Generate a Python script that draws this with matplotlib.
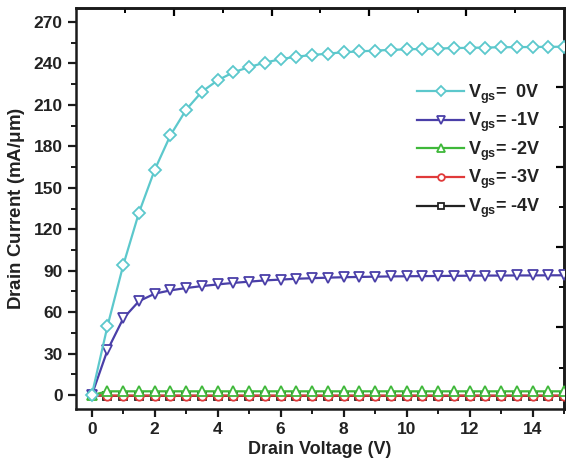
import matplotlib
matplotlib.use("Agg")
import matplotlib.pyplot as plt
import numpy as np

plt.rcParams['font.family'] = ['Liberation Sans', 'DejaVu Sans']
plt.rcParams['font.weight'] = 'bold'
plt.rcParams['mathtext.fontset'] = 'custom'
plt.rcParams['mathtext.rm'] = 'Liberation Sans:bold'
plt.rcParams['mathtext.it'] = 'Liberation Sans:bold'
plt.rcParams['mathtext.bf'] = 'Liberation Sans:bold'

vd = [0, 0.5, 1, 1.5, 2, 2.5, 3, 3.5, 4, 4.5, 5, 5.5, 6, 6.5, 7, 7.5, 8, 8.5, 9, 9.5,
      10, 10.5, 11, 11.5, 12, 12.5, 13, 13.5, 14, 14.5, 15]
id_0v = [0, 50, 94, 132, 163, 188, 206.5, 219.5, 227.7, 233.5, 237.3, 240.5, 243, 244.8, 246,
         247, 248, 248.6, 249.2, 249.7, 250.1, 250.4, 250.7, 251, 251.2, 251.4, 251.6, 251.7,
         251.8, 251.9, 252]
id_m1v = [0, 32.6, 55.5, 68, 73.4, 75.8, 77.5, 78.9, 80.1, 81.2, 82.1, 83, 83.6, 84.2, 84.6,
          85, 85.3, 85.5, 85.7, 85.9, 86, 86.1, 86.2, 86.3, 86.4, 86.5, 86.5, 86.6, 86.6, 86.7, 86.7]
id_m2v = [0] + [2.8] * 30
id_m3v = [0] + [-0.3] * 30
id_m4v = [0] + [-0.5] * 30

labels = [r'V$_{gs}$=  0V', r'V$_{gs}$= -1V', r'V$_{gs}$= -2V', r'V$_{gs}$= -3V', r'V$_{gs}$= -4V']
colors = ['#5cc8cc', '#4a3fa8', '#3fb83a', '#e03a3a', '#222222']
markers = ['D', 'v', '^', 'o', 's']
msizes = [6, 7.5, 7, 6, 5.5]
series = [id_0v, id_m1v, id_m2v, id_m3v, id_m4v]
zorders = [6, 5, 4, 3, 2]

fig = plt.figure(figsize=(5.66, 4.59), dpi=100)
ax = fig.add_axes([0.1343, 0.1089, 0.8622, 0.8737])

handles = []
for y, lab, c, m, ms, z in zip(series, labels, colors, markers, msizes, zorders):
    h, = ax.plot(vd, y, color=c, lw=1.6, marker=m, ms=ms, mfc='white', mec=c, mew=1.3,
                 label=lab, zorder=z)
    handles.append(h)

ax.set_xlim(-0.5, 15)
ax.set_ylim(-10, 280)
ax.set_xticks(np.arange(0, 15, 2))
ax.set_xticks(np.arange(0, 15.1, 1), minor=True)
ax.set_yticks(np.arange(0, 271, 30))
ax.set_yticks(np.arange(0, 280, 15), minor=True)

for s in ax.spines.values():
    s.set_linewidth(1.8)
    s.set_color('#1a1a1a')

ax.tick_params(which='major', direction='out', length=6, width=1.6, labelsize=12.5,
               top=False, right=False, color='#1a1a1a', labelcolor='#222222')
ax.tick_params(which='minor', direction='out', length=3.5, width=1.4,
               top=False, right=False, color='#1a1a1a')
for t in ax.get_xticklabels() + ax.get_yticklabels():
    t.set_fontweight('bold')

# top and right ticks (inward, unlabeled)
top = ax.secondary_xaxis('top')
top.set_xticks([2.62, 5.71, 8.8, 11.9])
top.set_xticks([1.07, 4.17, 7.26, 10.35, 13.44], minor=True)
top.tick_params(which='major', direction='in', length=6, width=1.6, labeltop=False)
top.tick_params(which='minor', direction='in', length=3.5, width=1.4)
top.spines['top'].set_linewidth(1.8)

right = ax.secondary_yaxis('right')
right.set_yticks([222.6, 164.8, 106.9, 49])
right.set_yticks([251.5, 193.7, 135.8, 78, 20], minor=True)
right.tick_params(which='major', direction='in', length=6, width=1.6, labelright=False)
right.tick_params(which='minor', direction='in', length=3.5, width=1.4)
right.spines['right'].set_linewidth(1.8)

ax.set_xlabel('Drain Voltage (V)', fontsize=13, fontweight='bold', labelpad=3,
              color='#222222')
ax.set_ylabel(r'Drain Current (mA/$\mathregular{\mu}$m)', fontsize=13.5, fontweight='bold',
              labelpad=5, color='#222222')

leg = ax.legend(handles=handles, loc='upper right', bbox_to_anchor=(0.985, 0.855),
                frameon=False, fontsize=13, handlelength=2.6, handletextpad=0.2,
                labelspacing=0.3, markerscale=0.8)
for t in leg.get_texts():
    t.set_fontweight('bold')
    t.set_color('#222222')

fig.savefig('out.png', dpi=100)
